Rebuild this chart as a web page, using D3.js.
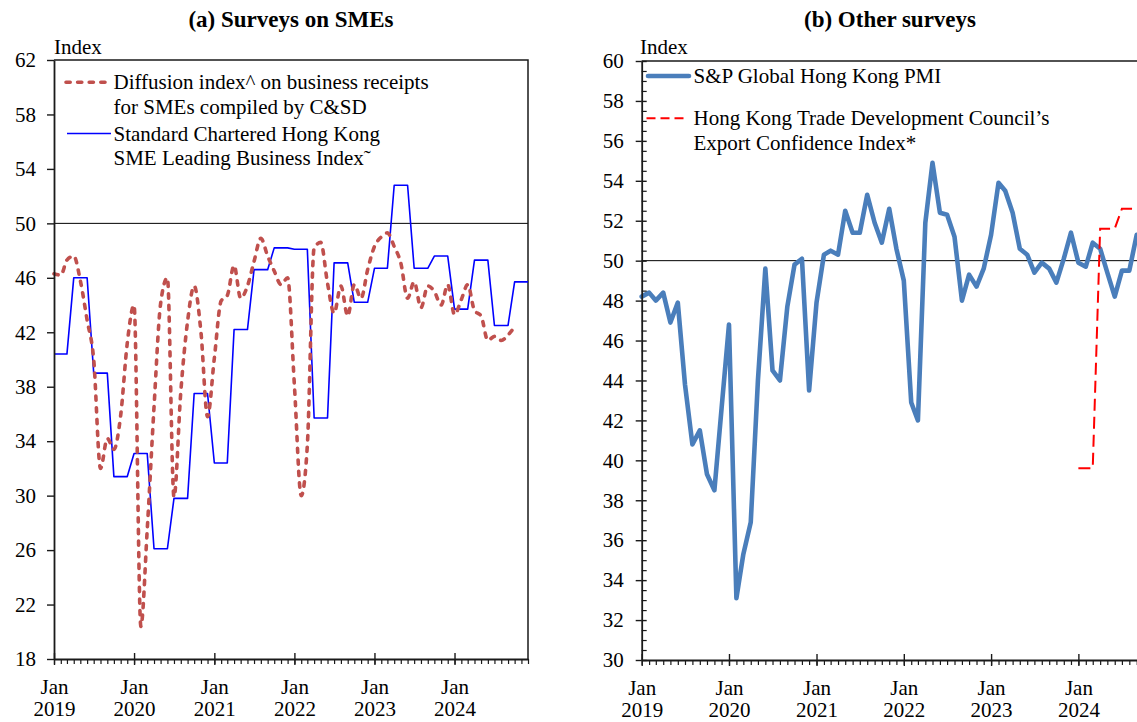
<!DOCTYPE html>
<html>
<head>
<meta charset="utf-8">
<script src="https://cdn.jsdelivr.net/npm/d3@7"></script>
<style>
  html, body { margin: 0; padding: 0; background: #fff; }
  svg { display: block; font-family: "Liberation Serif", "Times New Roman", serif; }
</style>
</head>
<body>
<svg id="chart" width="1137" height="722"></svg>
<script>
// ---------------- DATA ----------------
// Monthly categories Jan 2019 .. Dec 2024
const months = d3.utcMonths(new Date(Date.UTC(2019, 0, 1)), new Date(Date.UTC(2025, 0, 1)));
const yearLabels = ["2019", "2020", "2021", "2022", "2023", "2024"];
const leftYTicks = [18, 22, 26, 30, 34, 38, 42, 46, 50, 54, 58, 62];
const rightYTicks = [30, 32, 34, 36, 38, 40, 42, 44, 46, 48, 50, 52, 54, 56, 58, 60];

// (a) Diffusion index on business receipts for SMEs compiled by C&SD (Jan 2019 - Oct 2024)
const smeDiffusion = [
  46.3, 46.2, 47.3, 47.6, 45.8, 42.9, 40.0, 32.0, 34.2, 33.4, 35.9, 41.2,
  44.0, 20.4, 27.5, 36.5, 44.1, 46.0, 29.9, 37.6, 42.8, 45.4, 42.0, 35.8,
  40.1, 44.3, 44.7, 46.9, 44.5, 45.4, 47.2, 48.9, 47.6, 46.5, 45.5, 46.0,
  38.1, 30.0, 33.7, 48.2, 48.6, 45.6, 43.4, 45.4, 43.2, 45.5, 44.5, 46.6,
  48.3, 49.0, 49.3, 48.3, 47.1, 44.5, 45.7, 43.8, 45.4, 45.0, 44.0, 45.5,
  43.3, 44.4, 45.5, 43.6, 43.2, 41.4, 41.7, 41.4, 41.8, 42.4
];
// (a) Standard Chartered Hong Kong SME Leading Business Index (quarterly, shown monthly)
const scSmeIndex = [
  40.4, 40.4, 40.4, 46.0, 46.0, 46.0, 39.0, 39.0, 39.0, 31.4, 31.4, 31.4,
  33.1, 33.1, 33.1, 26.1, 26.1, 26.1, 29.8, 29.8, 29.8, 37.5, 37.5, 37.5,
  32.4, 32.4, 32.4, 42.2, 42.2, 42.2, 46.6, 46.6, 46.6, 48.2, 48.2, 48.2,
  48.1, 48.1, 48.1, 35.7, 35.7, 35.7, 47.1, 47.1, 47.1, 44.2, 44.2, 44.2,
  46.7, 46.7, 46.7, 52.8, 52.8, 52.8, 46.7, 46.7, 46.7, 47.6, 47.6, 47.6,
  43.7, 43.7, 43.7, 47.3, 47.3, 47.3, 42.5, 42.5, 42.5, 45.7, 45.7, 45.7
];
// (b) S&P Global Hong Kong PMI (Jan 2019 - Sep 2024)
const pmi = [
  48.2, 48.4, 48.0, 48.4, 46.9, 47.9, 43.8, 40.8, 41.5, 39.3, 38.5, 42.6,
  46.8, 33.1, 35.3, 36.9, 44.0, 49.6, 44.5, 44.0, 47.7, 49.8, 50.1, 43.5,
  47.9, 50.3, 50.5, 50.3, 52.5, 51.4, 51.4, 53.3, 51.9, 50.9, 52.6, 50.6,
  49.0, 42.9, 42.0, 51.9, 54.9, 52.4, 52.3, 51.2, 48.0, 49.3, 48.7, 49.6,
  51.3, 53.9, 53.5, 52.4, 50.6, 50.3, 49.4, 49.9, 49.6, 48.9, 50.1, 51.4,
  49.9, 49.7, 50.9, 50.6, 49.4, 48.2, 49.5, 49.5, 51.3
];
// (b) HKTDC Export Confidence Index (quarterly, shown monthly from Jan 2024)
const tdcStartIndex = 60;
const tdcExport = [39.6, 39.6, 39.6, 51.6, 51.6, 51.6, 52.6, 52.6, 52.6];

// ---------------- DRAW ----------------
const svg = d3.select("#chart");
const FS = 21;
const AXIS = "#1a1a1a";

function drawXAxis(g, x, yPix) {
  const majors = months.filter(d => d.getUTCMonth() === 0);
  // minor monthly ticks (below)
  g.append("g").attr("transform", `translate(0,${yPix})`)
    .call(d3.axisBottom(x).tickValues(months).tickSize(5).tickFormat("").tickSizeOuter(0))
    .call(s => s.select(".domain").remove())
    .call(s => s.selectAll("line").attr("stroke", AXIS).attr("stroke-width", 1.2));
  // major ticks crossing upward
  g.append("g").attr("transform", `translate(0,${yPix})`)
    .call(d3.axisTop(x).tickValues(majors).tickSize(6).tickFormat("").tickSizeOuter(0))
    .call(s => s.select(".domain").remove())
    .call(s => s.selectAll("line").attr("stroke", AXIS).attr("stroke-width", 1.4));
  const ax = g.append("g").attr("transform", `translate(0,${yPix})`)
    .call(d3.axisBottom(x).tickValues(majors).tickSize(6).tickSizeOuter(0).tickFormat((d, i) => yearLabels[i]));
  ax.select(".domain").attr("stroke", AXIS).attr("stroke-width", 1.8);
  ax.selectAll("line").attr("stroke", AXIS).attr("stroke-width", 1.4);
  ax.selectAll("text").each(function (d, i) {
    const t = d3.select(this);
    t.text(null).attr("dy", null).attr("y", null)
      .attr("fill", "#000").attr("font-size", FS).attr("font-family", "Liberation Serif, Times New Roman, serif");
    t.append("tspan").attr("x", 0).attr("y", 35).text("Jan");
    t.append("tspan").attr("x", 0).attr("y", 57).text(yearLabels[i]);
  });
}

// ===== Panel (a) =====
const xL = d3.scaleUtc().domain([months[0], months[71]]).range([54, 528]);
const yL = d3.scaleLinear().domain([18, 62]).range([659, 60]);
const gA = svg.append("g");

gA.append("line").attr("x1", 54).attr("x2", 528).attr("y1", yL(50)).attr("y2", yL(50))
  .attr("stroke", "#000").attr("stroke-width", 1);

// border top / right
gA.append("path").attr("d", `M54,${yL(62)}H528V${yL(18)}`).attr("fill", "none")
  .attr("stroke", AXIS).attr("stroke-width", 1.5);

const lineSC = d3.line().x((d, i) => xL(months[i])).y(d => yL(d));
gA.append("path").datum(scSmeIndex).attr("d", lineSC)
  .attr("fill", "none").attr("stroke", "#0000FF").attr("stroke-width", 1.6).attr("stroke-linejoin", "round");

const lineDI = d3.line().x((d, i) => xL(months[i])).y(d => yL(d)).curve(d3.curveMonotoneX);
gA.append("path").datum(smeDiffusion).attr("d", lineDI)
  .attr("fill", "none").attr("stroke", "#C0504D").attr("stroke-width", 3.6)
  .attr("stroke-dasharray", "4.2,7.4").attr("stroke-linecap", "round");

// y axis
const yAxL = gA.append("g").attr("transform", "translate(54,0)")
  .call(d3.axisLeft(yL).tickValues(leftYTicks).tickSize(7).tickPadding(11).tickSizeOuter(0));
yAxL.select(".domain").attr("stroke", AXIS).attr("stroke-width", 1.8);
yAxL.selectAll("line").attr("stroke", AXIS).attr("stroke-width", 1.4);
yAxL.selectAll("text").attr("font-size", FS).attr("fill", "#000")
  .attr("font-family", "Liberation Serif, Times New Roman, serif");

drawXAxis(gA, xL, 659);

gA.append("text").attr("x", 54).attr("y", 54).attr("font-size", FS).text("Index");
gA.append("text").attr("x", 291).attr("y", 27).attr("text-anchor", "middle")
  .attr("font-size", 23).attr("font-weight", "bold").text("(a) Surveys on SMEs");

// legend (a)
gA.append("line").attr("x1", 66).attr("x2", 109).attr("y1", 82.3).attr("y2", 82.3)
  .attr("stroke", "#C0504D").attr("stroke-width", 3.6).attr("stroke-dasharray", "4.2,7.4").attr("stroke-linecap", "round");
gA.append("line").attr("x1", 67).attr("x2", 111).attr("y1", 133.5).attr("y2", 133.5)
  .attr("stroke", "#0000FF").attr("stroke-width", 1.6);
const legA = [["Diffusion index^ on business receipts", 89], ["for SMEs compiled by C&SD", 114],
  ["Standard Chartered Hong Kong", 140.5], ["SME Leading Business Index˜", 165]];
legA.forEach(([t, y]) => gA.append("text").attr("x", 113.5).attr("y", y).attr("font-size", FS).text(t));

// ===== Panel (b) =====
const xR = d3.scaleUtc().domain([months[0], months[71]]).range([641.7, 1158.5]);
const yR = d3.scaleLinear().domain([30, 60]).range([660, 61]);
const gB = svg.append("g");

gB.append("line").attr("x1", 641.7).attr("x2", 1158.5).attr("y1", yR(50)).attr("y2", yR(50))
  .attr("stroke", "#000").attr("stroke-width", 1);
gB.append("path").attr("d", `M641.7,${yR(60)}H1158.5V${yR(30)}`).attr("fill", "none")
  .attr("stroke", AXIS).attr("stroke-width", 1.5);

const linePMI = d3.line().x((d, i) => xR(months[i])).y(d => yR(d));
gB.append("path").datum(pmi).attr("d", linePMI)
  .attr("fill", "none").attr("stroke", "#4A7EBB").attr("stroke-width", 4.6)
  .attr("stroke-linejoin", "round").attr("stroke-linecap", "round");

const lineTDC = d3.line().x((d, i) => xR(months[tdcStartIndex + i])).y(d => yR(d));
gB.append("path").datum(tdcExport).attr("d", lineTDC)
  .attr("fill", "none").attr("stroke", "#FF0000").attr("stroke-width", 2)
  .attr("stroke-dasharray", "12,6");

// y axis (b): majors crossing, minors every 0.5
const minorR = d3.range(30, 60.01, 0.5).filter(v => v % 2 !== 0);
gB.append("g").attr("transform", "translate(641.7,0)")
  .call(d3.axisRight(yR).tickValues(minorR).tickSize(5).tickFormat("").tickSizeOuter(0))
  .call(s => s.select(".domain").remove())
  .call(s => s.selectAll("line").attr("stroke", AXIS).attr("stroke-width", 1.2));
gB.append("g").attr("transform", "translate(641.7,0)")
  .call(d3.axisRight(yR).tickValues(rightYTicks).tickSize(5).tickFormat("").tickSizeOuter(0))
  .call(s => s.select(".domain").remove())
  .call(s => s.selectAll("line").attr("stroke", AXIS).attr("stroke-width", 1.4));
const yAxR = gB.append("g").attr("transform", "translate(641.7,0)")
  .call(d3.axisLeft(yR).tickValues(rightYTicks).tickSize(6).tickPadding(12).tickSizeOuter(0));
yAxR.select(".domain").attr("stroke", AXIS).attr("stroke-width", 1.8);
yAxR.selectAll("line").attr("stroke", AXIS).attr("stroke-width", 1.4);
yAxR.selectAll("text").attr("font-size", FS).attr("fill", "#000")
  .attr("font-family", "Liberation Serif, Times New Roman, serif");

drawXAxis(gB, xR, 660);

gB.append("text").attr("x", 640).attr("y", 54).attr("font-size", FS).text("Index");
gB.append("text").attr("x", 890).attr("y", 27).attr("text-anchor", "middle")
  .attr("font-size", 23).attr("font-weight", "bold").text("(b) Other surveys");

// legend (b)
gB.append("line").attr("x1", 648).attr("x2", 689).attr("y1", 76).attr("y2", 76)
  .attr("stroke", "#4A7EBB").attr("stroke-width", 4.6).attr("stroke-linecap", "round");
gB.append("line").attr("x1", 646.5).attr("x2", 684).attr("y1", 118.3).attr("y2", 118.3)
  .attr("stroke", "#FF0000").attr("stroke-width", 2).attr("stroke-dasharray", "9,5");
const legB = [["S&P Global Hong Kong PMI", 83.3], ["Hong Kong Trade Development Council’s", 125],
  ["Export Confidence Index*", 149.5]];
legB.forEach(([t, y]) => gB.append("text").attr("x", 693.5).attr("y", y).attr("font-size", FS).text(t));
</script>
</body>
</html>
